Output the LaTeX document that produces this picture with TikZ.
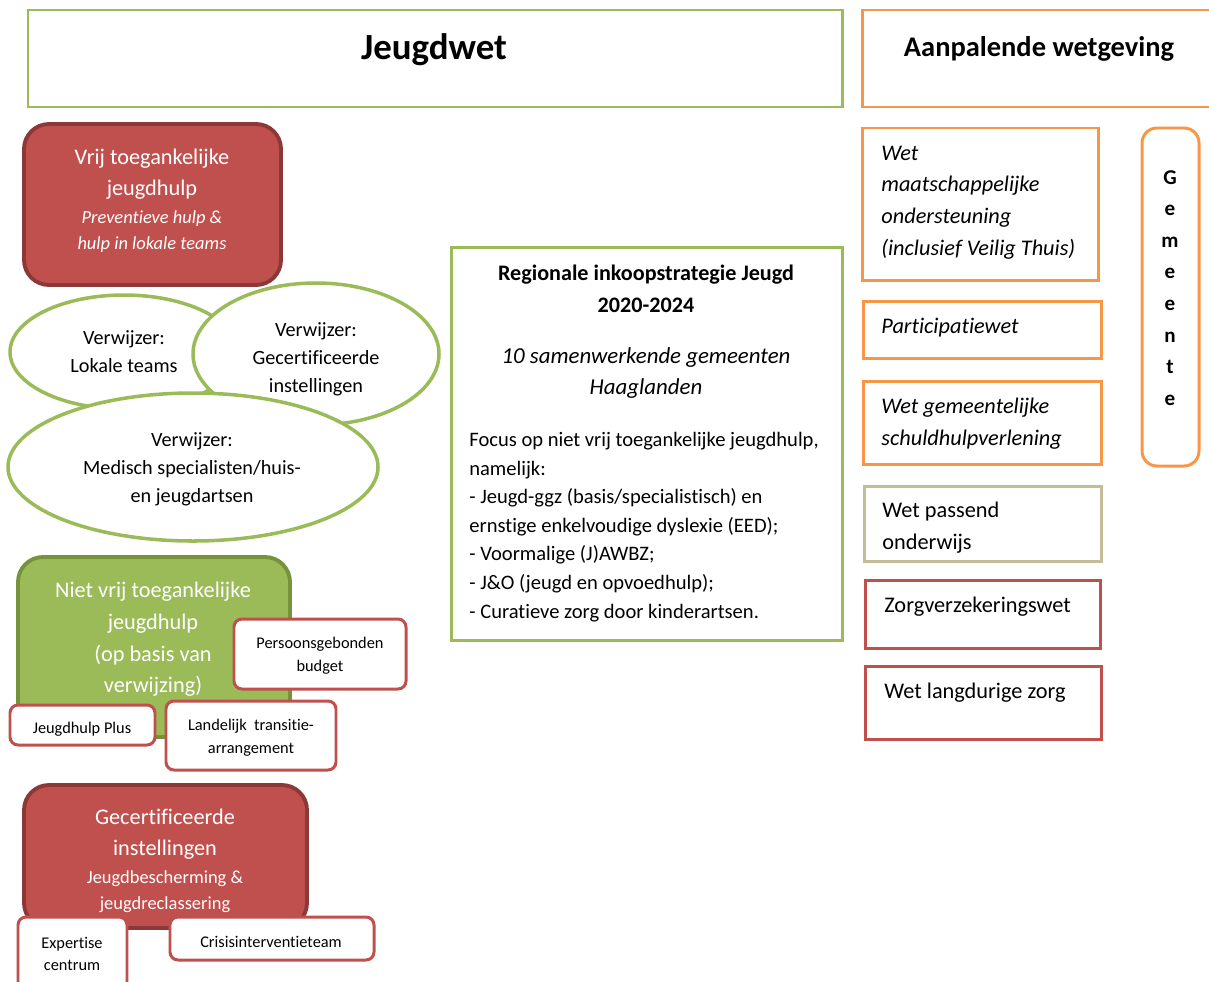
\documentclass[tikz,border=0pt]{standalone}
\usepackage{fontspec}
\setmainfont{Carlito}[Ligatures=CommonOff]
\usetikzlibrary{fit,shapes.geometric}
\definecolor{lawgreen}{HTML}{9BBB59}
\definecolor{lawgreendk}{HTML}{76923C}
\definecolor{lawred}{HTML}{C0504D}
\definecolor{lawreddk}{HTML}{8C3836}
\definecolor{laworange}{HTML}{F79646}
\definecolor{lawtan}{HTML}{C4BD97}
\newcommand{\fs}[2]{\fontsize{#1}{#2}\selectfont}

\begin{document}
\begin{tikzpicture}[x=0.02cm, y=-0.02cm,
  frame/.style={draw, line width=1.7pt, inner sep=0pt, fill=white},
  mainbox/.style={frame, rounded corners=0.5cm, line width=2.2pt},
  smallbox/.style={frame, draw=lawred, rounded corners=0.16cm},
  verwijzer/.style={draw=lawgreen, line width=2pt, fill=white, ellipse, inner sep=0pt},
  txt/.style={inner sep=0pt, align=center, yshift=-1.1pt, font=\fs{11.5}{16}},
  wtxt/.style={txt, text=white, font=\fs{12.7}{17.6}},
  wsub/.style={txt, text=white, font=\fs{10.5}{14.7}},
  stxt/.style={txt, font=\fs{9.3}{13}},
  rtxt/.style={inner sep=0pt, align=left, anchor=west, yshift=-1.1pt, font=\fs{12.7}{18}}]
  \useasboundingbox (0,0) rectangle (1209,981);

  % kop
  \node[frame, draw=lawgreen, fit={(28,10) (842,107)}] (jw) {};
  \node[frame, draw=laworange, fit={(862,10) (1215,107)}] (aw) {};
  \node[txt, font=\bfseries\fs{21}{24}] (jwtxt) at (434,48) {Jeugdwet};
  \node[txt, font=\bfseries\fs{16.2}{20}] (awtxt) at (1039,47) {Aanpalende wetgeving};

  % vrij toegankelijk
  \node[mainbox, draw=lawreddk, fill=lawred, fit={(24,124) (281,285)}] (vrij) {};
  \node[wtxt] (vrijtxt) at (152,172.5) {Vrij toegankelijke\\jeugdhulp};
  \node[wsub, font=\itshape\fs{10.5}{14.7}] (vrijsub) at (152,230) {Preventieve hulp \&\\hulp in lokale teams};

  % verwijzers
  \node[verwijzer, minimum width=228*0.02cm, minimum height=114*0.02cm] (lokaal) at (124,352) {};
  \node[verwijzer, minimum width=246*0.02cm, minimum height=142*0.02cm] (gecert) at (316,354) {};
  \node[verwijzer, minimum width=370*0.02cm, minimum height=148*0.02cm] (medisch) at (193,467) {};
  \node[txt] (lokaaltxt) at (124,350) {Verwijzer:\\Lokale teams};
  \node[txt] (gecerttxt) at (316,357) {Verwijzer:\\Gecertificeerde\\instellingen};
  \node[txt] (medischtxt) at (192,467) {Verwijzer:\\Medisch specialisten/huis-\\en jeugdartsen};

  % niet vrij toegankelijk
  \node[mainbox, draw=lawgreendk, fill=lawgreen, fit={(18,557) (290,737)}] (nietvrij) {};
  \node[wtxt, font=\fs{12.7}{18}] (nietvrijtxt) at (153,637.5) {Niet vrij toegankelijke\\jeugdhulp\\(op basis van\\verwijzing)};
  \node[smallbox, fit={(234,619) (406,689)}] (pgb) {};
  \node[smallbox, fit={(10,705) (155,745)}] (jhplus) {};
  \node[smallbox, fit={(166,701) (336,770)}] (lta) {};
  \node[stxt] (pgbtxt) at (320,653.5) {Persoonsgebonden\\budget};
  \node[stxt] (jhplustxt) at (82,727) {Jeugdhulp Plus};
  \node[stxt] (ltatxt) at (251,735.5) {Landelijk~ transitie-\\arrangement};

  % gecertificeerde instellingen
  \node[mainbox, draw=lawreddk, fill=lawred, fit={(24,785) (307,928)}] (gi) {};
  \node[wtxt] (gitxt) at (165,832.5) {Gecertificeerde\\instellingen};
  \node[wsub] (gisub) at (165,890) {Jeugdbescherming \&\\jeugdreclassering};
  \node[smallbox, fit={(18,917) (127,990)}] (expert) {};
  \node[smallbox, fit={(170,917) (374,960)}] (cit) {};
  \node[stxt] (experttxt) at (72,952) {Expertise\\centrum};
  \node[stxt] (cittxt) at (271,940) {Crisisinterventieteam};

  % inkoopstrategie
  \node[frame, draw=lawgreen, fit={(451,247) (842,640)}] (regio) {};
  \node[txt, font=\bfseries\fs{12.6}{18}] (regiotitel) at (646,287) {Regionale inkoopstrategie Jeugd\\2020-2024};
  \node[txt, font=\itshape\fs{13}{18}] (regiosub) at (646,371) {10 samenwerkende gemeenten\\Haaglanden};
  \node[txt, align=left, anchor=west, font=\fs{11.7}{16.3}] (focus) at (469,525) {Focus op niet vrij toegankelijke jeugdhulp,\\namelijk:\\- Jeugd-ggz (basis/specialistisch) en\\ernstige enkelvoudige dyslexie (EED);\\- Voormalige (J)AWBZ;\\- J\&O (jeugd en opvoedhulp);\\- Curatieve zorg door kinderartsen.};

  % aanpalende wetten
  \node[frame, draw=laworange, fit={(862,128) (1098,280)}] (wmo) {};
  \node[frame, draw=laworange, fit={(863,301) (1101,358)}] (pw) {};
  \node[frame, draw=laworange, fit={(863,381) (1101,464)}] (wgs) {};
  \node[frame, draw=lawtan, fit={(864,486) (1101,561)}] (wpo) {};
  \node[frame, draw=lawred, fit={(865,580) (1100,648)}] (zvw) {};
  \node[frame, draw=lawred, fit={(865,666) (1101,739)}] (wlz) {};
  \node[frame, draw=laworange, rounded corners=0.3cm, fit={(1142,128) (1199,466)}] (gem) {};
  \node[rtxt, font=\itshape\fs{12.7}{18}] (wmotxt) at (881,200.5) {Wet\\maatschappelijke\\ondersteuning\\(inclusief Veilig Thuis)};
  \node[rtxt, font=\itshape\fs{12.7}{18}] (pwtxt) at (881,326) {Participatiewet};
  \node[rtxt, font=\itshape\fs{12.7}{18}] (wgstxt) at (881,422) {Wet gemeentelijke\\schuldhulpverlening};
  \node[rtxt] (wpotxt) at (882,525.5) {Wet passend\\onderwijs};
  \node[rtxt] (zvwtxt) at (884,605) {Zorgverzekeringswet};
  \node[rtxt] (wlztxt) at (884,691) {Wet langdurige zorg};
  \node[txt, font=\bfseries\fs{12}{18}] (gemtxt) at (1170,286) {G\\e\\m\\e\\e\\n\\t\\e};
\end{tikzpicture}
\end{document}
